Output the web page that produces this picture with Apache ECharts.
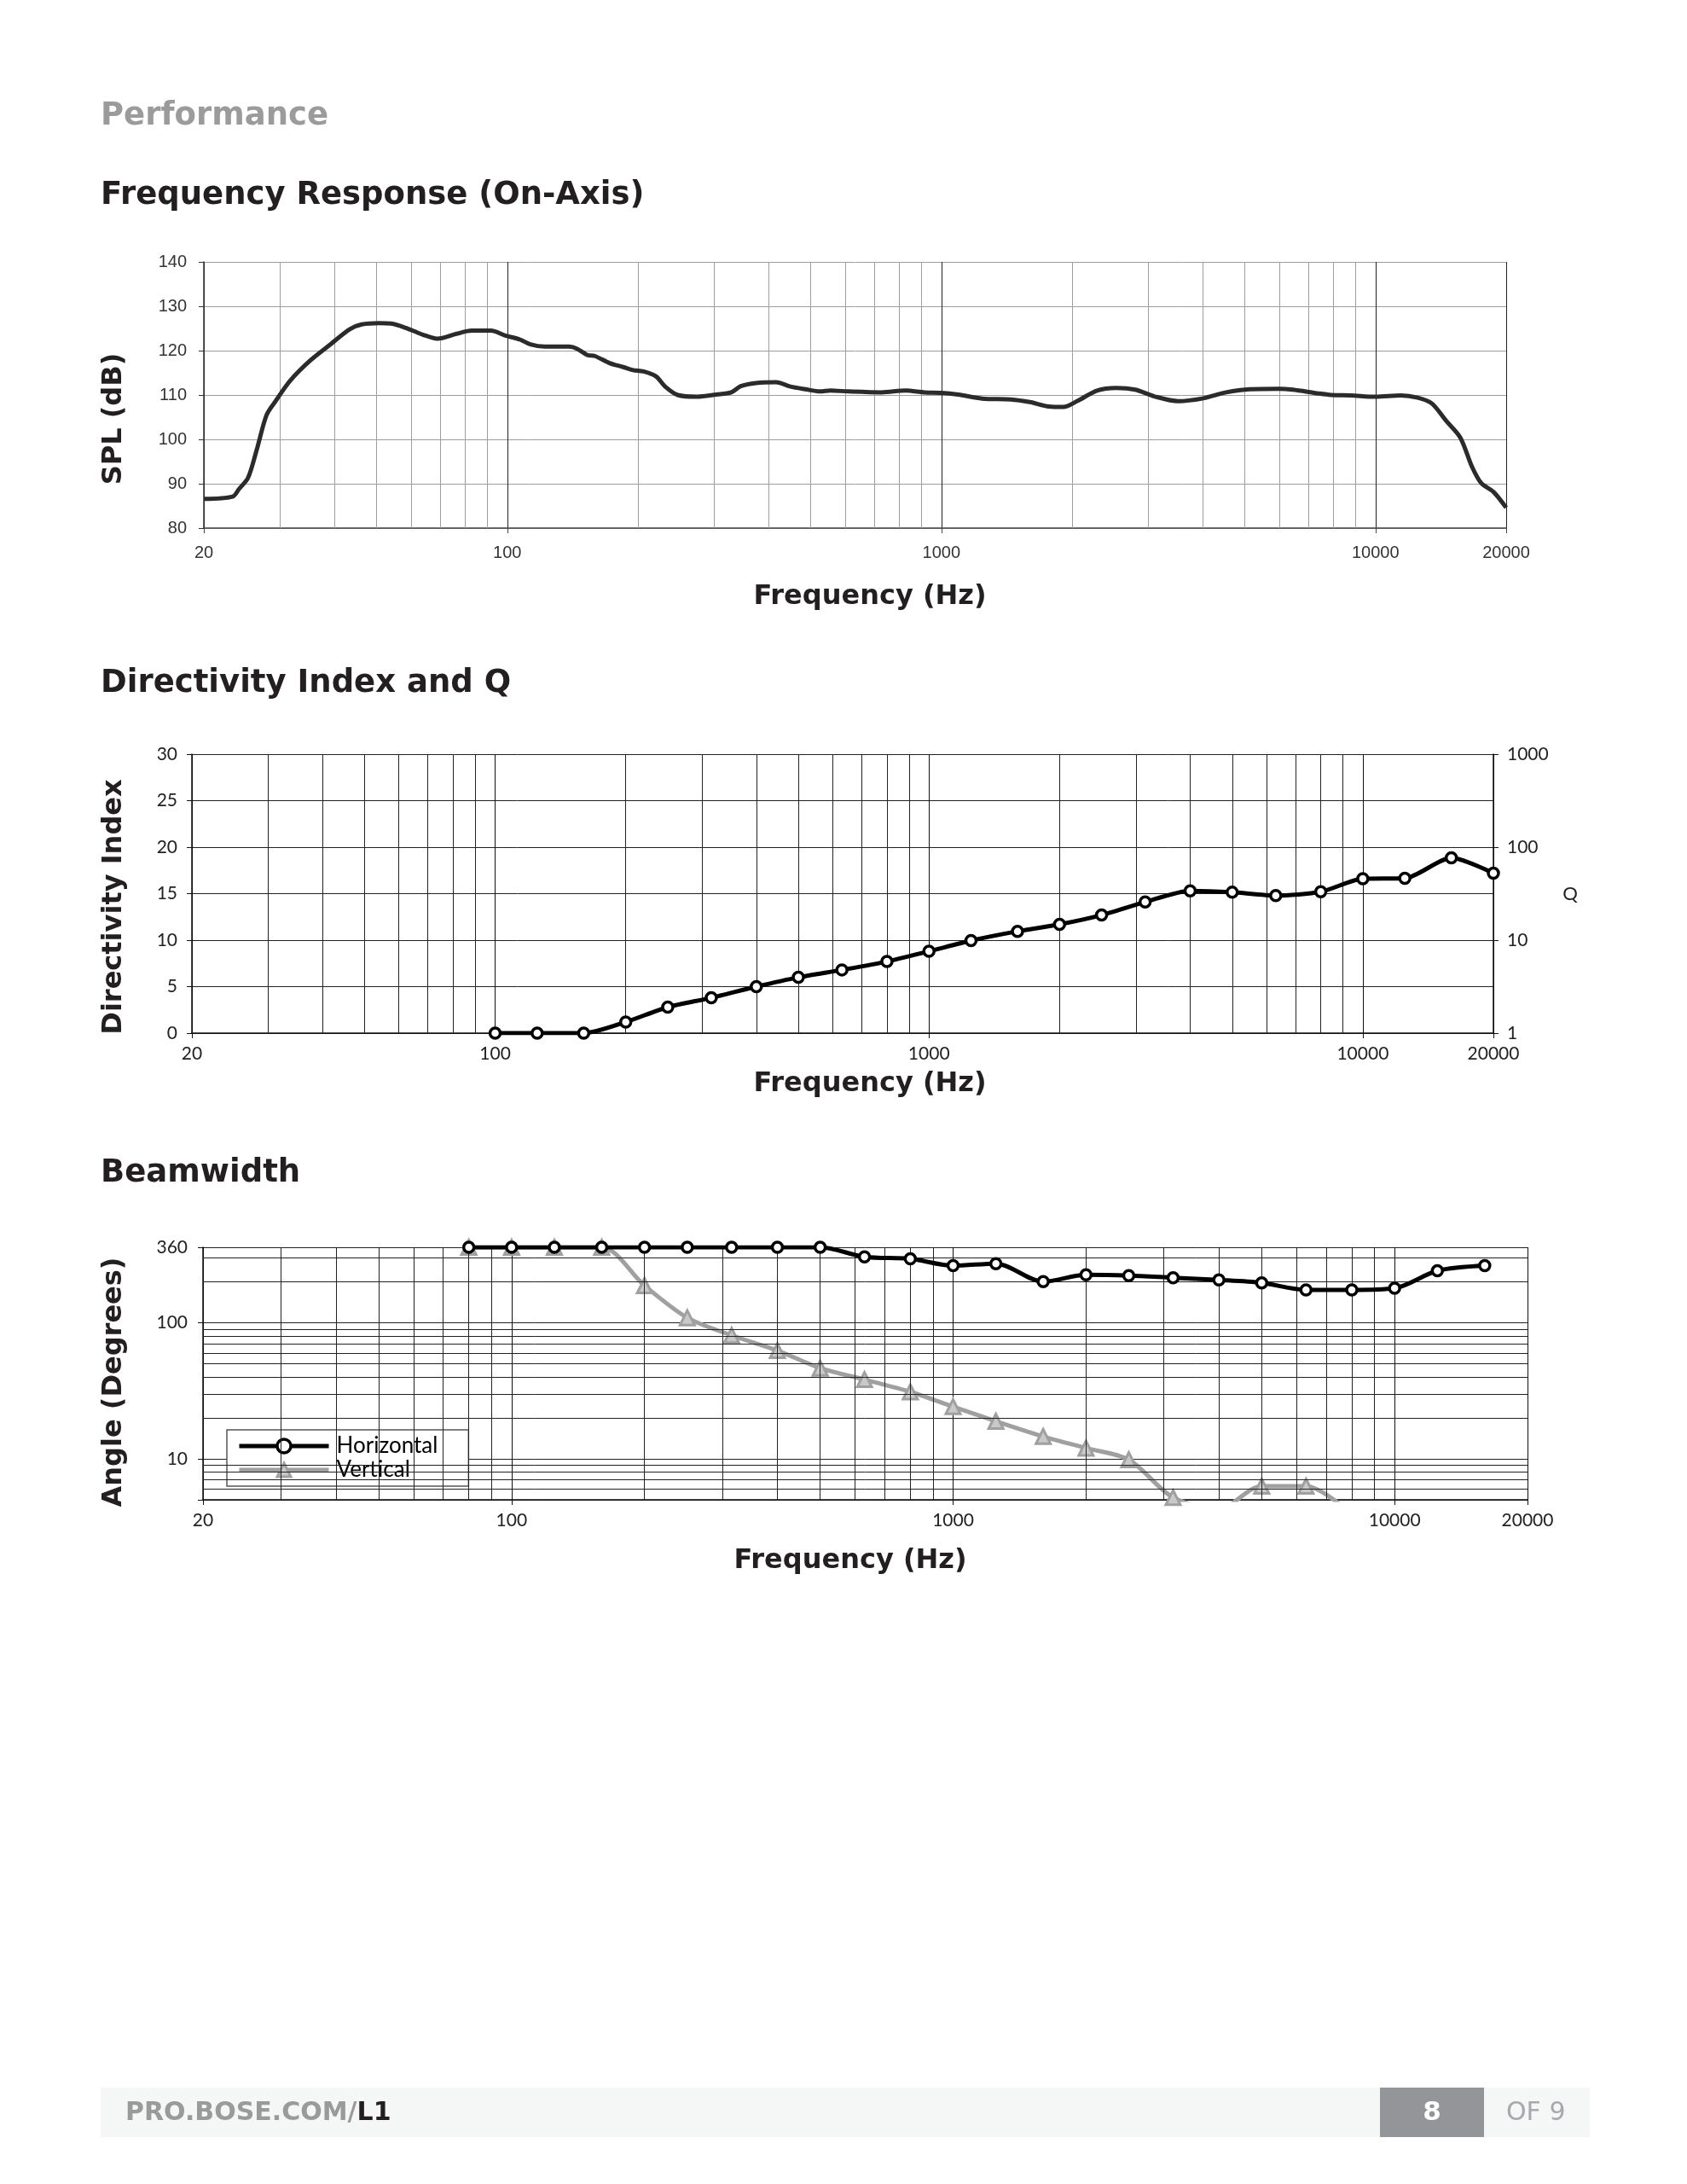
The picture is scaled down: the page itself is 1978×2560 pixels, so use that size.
<!DOCTYPE html>
<html><head><meta charset="utf-8">
<script src="https://cdn.jsdelivr.net/npm/echarts@6/dist/echarts.min.js"></script>
<style>html,body{margin:0;padding:0;background:#fff}#c{width:1978px;height:2560px}</style>
</head><body><div id="c"></div>
<script>
// ---------- Frequency Response (On-Axis) ----------
const frFreq = [20,23.3,24.1,25.3,26.5,27.9,29.3,31.6,35.1,38.9,43.3,46.2,50.6,54,59.2,63.9,69,76.4,82.8,91.7,99,107,113,122,139,145,153,159,172,185,195,206,220,231,247,274,303,328,345,374,416,449,486,526,555,610,728,827,915,1000,1093,1241,1445,1598,1770,1909,2061,2283,2526,2796,3093,3515,3989,4531,5140,5987,6451,7326,7904,8765,10000,11433,12500,13480,14540,15680,16670,17530,18680,20000];
const frSpl  = [86.6,87.1,88.8,91.4,97.8,105.5,108.7,113.2,117.7,121.2,124.8,125.9,126.2,126.1,124.9,123.6,122.7,123.8,124.5,124.5,123.4,122.5,121.4,120.9,120.9,120.4,119.0,118.8,117.2,116.3,115.6,115.3,114.2,111.9,110.0,109.6,110.1,110.6,112.0,112.7,112.9,111.9,111.3,110.8,111.0,110.8,110.6,111.0,110.6,110.5,110.1,109.2,109.0,108.4,107.4,107.3,108.7,111.0,111.6,111.2,109.7,108.6,109.2,110.6,111.3,111.4,111.2,110.4,110.0,109.9,109.6,109.9,109.4,108.1,104.2,100.4,93.9,90.1,88.2,84.6];

// ---------- Directivity Index ----------
const diFreq   = [100,125,160,200,250,315,400,500,630,800,1000,1250,1600,2000,2500,3150,4000,5000,6300,8000,10000,12500,16000,20000];
const diValues = [0,0,0,1.2,2.8,3.8,5.0,6.0,6.8,7.7,8.8,9.95,10.95,11.7,12.7,14.1,15.3,15.15,14.8,15.2,16.6,16.65,18.85,17.2];

// ---------- Beamwidth ----------
const bwFreq       = [80,100,125,160,200,250,315,400,500,630,800,1000,1250,1600,2000,2500,3150,4000,5000,6300,8000,10000,12500,16000];
const bwHorizontal = [360,360,360,360,360,360,360,360,360,306,296,264,273,201,226,223,215,207,197,175,175,180,242,264];
const bwVertical   = [360,360,360,360,188,109,81,62.6,46.5,38.3,31.1,24.2,18.9,14.6,12.0,9.86,5.2,4.3,6.3,6.3,3.9];

// grid line values (log paper)
const minorFreqGrid = [30,40,50,60,70,80,90,200,300,400,500,600,700,800,900,2000,3000,4000,5000,6000,7000,8000,9000];
const minorAngleGrid = [6,7,8,9,20,30,40,50,60,70,80,90,200,300];

const pairs = (xs, ys) => ys.map((y, i) => [xs[i], y]);
const logLabel = v => String(Math.round(v));

const tickFontA = {fontFamily: "'Liberation Sans', Arial, sans-serif", fontSize: 20, color: '#333'};
const tickFontB = {fontFamily: "Lato, 'Open Sans', sans-serif", fontSize: 21, color: '#222'};
const headFont = "'DejaVu Sans', 'Open Sans', sans-serif";

function gridSeries(xi, yi, color, hVals) {
  const d = minorFreqGrid.map(v => ({xAxis: v}));
  if (hVals) hVals.forEach(v => d.push({yAxis: v}));
  return {
    type: 'line', xAxisIndex: xi, yAxisIndex: yi, data: [], z: 1, silent: true,
    markLine: {silent: true, symbol: ['none', 'none'], animation: false, label: {show: false},
      lineStyle: {color: color, width: 1, type: 'solid'}, emphasis: {disabled: true}, data: d}
  };
}

function heading(text, x, y, size, fill, align) {
  return {type: 'text', x: x, y: y, z: 2, style: {text: text, fontFamily: headFont, fontWeight: 'bold', fontSize: size, fill: fill, verticalAlign: 'middle', align: align || 'left'}};
}
function vTitle(text, x, y) {
  const t = heading(text, x, y, 32, '#231f20', 'center');
  t.rotation = Math.PI / 2;
  return t;
}

const chart = echarts.init(document.getElementById('c'));
const option = {
  animation: false,
  backgroundColor: '#fff',
  grid: [
    {left: 239, top: 307, width: 1527, height: 312},
    {left: 225, top: 884, width: 1526, height: 327},
    {left: 238, top: 1462, width: 1553, height: 296}
  ],
  xAxis: [
    {type: 'log', gridIndex: 0, min: 20, max: 20000,
      axisLine: {lineStyle: {color: '#444', width: 1.5}},
      axisTick: {show: true, length: 6, lineStyle: {color: '#444'}},
      axisLabel: Object.assign({margin: 19, formatter: logLabel}, tickFontA),
      splitLine: {show: true, lineStyle: {color: '#222', width: 1}}},
    {type: 'log', gridIndex: 1, min: 20, max: 20000,
      axisLine: {lineStyle: {color: '#111', width: 1.5}},
      axisTick: {show: true, length: 6, lineStyle: {color: '#111'}},
      axisLabel: Object.assign({margin: 14, formatter: logLabel}, tickFontB),
      splitLine: {show: true, lineStyle: {color: '#111', width: 1}}},
    {type: 'log', gridIndex: 2, min: 20, max: 20000,
      axisLine: {lineStyle: {color: '#111', width: 1.5}},
      axisTick: {show: true, length: 6, lineStyle: {color: '#111'}},
      axisLabel: Object.assign({margin: 14, formatter: logLabel}, tickFontB),
      splitLine: {show: true, lineStyle: {color: '#111', width: 1}}}
  ],
  yAxis: [
    {type: 'value', gridIndex: 0, min: 80, max: 140, interval: 10,
      axisLine: {show: true, lineStyle: {color: '#333', width: 1.5}},
      axisTick: {show: true, length: 6, lineStyle: {color: '#333'}},
      axisLabel: Object.assign({margin: 20}, tickFontA),
      splitLine: {show: true, lineStyle: {color: '#9e9e9e', width: 1}}},
    {type: 'value', gridIndex: 1, min: 0, max: 30, interval: 5,
      axisLine: {show: true, lineStyle: {color: '#111', width: 1.5}},
      axisTick: {show: true, length: 6, lineStyle: {color: '#111'}},
      axisLabel: Object.assign({margin: 17}, tickFontB),
      splitLine: {show: true, lineStyle: {color: '#222', width: 1}}},
    {type: 'log', gridIndex: 1, min: 1, max: 1000, position: 'right',
      axisLine: {show: true, lineStyle: {color: '#111', width: 1.5}},
      axisTick: {show: true, length: 6, lineStyle: {color: '#111'}},
      axisLabel: Object.assign({margin: 16, formatter: logLabel}, tickFontB),
      splitLine: {show: false}},
    {type: 'log', gridIndex: 2, min: 5, max: 360,
      axisLine: {show: true, lineStyle: {color: '#111', width: 1.5}},
      axisTick: {show: true, length: 6, lineStyle: {color: '#111'}},
      axisLabel: Object.assign({margin: 18, formatter: v => (Math.round(v) === 5 ? '' : logLabel(v))}, tickFontB),
      splitLine: {show: true, lineStyle: {color: '#222', width: 1}}}
  ],
  legend: {
    data: [
      {name: 'Horizontal', lineStyle: {width: 5, color: '#000'}},
      {name: 'Vertical', lineStyle: {width: 5, color: '#a0a0a0'}, itemStyle: {color: '#c9c9c9', borderColor: '#a0a0a0', borderWidth: 3}}
    ],
    orient: 'vertical', left: 266, top: 1676,
    padding: [6, 36, 6, 12], itemGap: 2, itemWidth: 105, itemHeight: 20,
    lineStyle: {width: 'inherit'}, itemStyle: {borderWidth: 'inherit'},
    backgroundColor: '#fff', borderColor: '#555', borderWidth: 1.5, borderRadius: 0,
    textStyle: {fontFamily: "Lato, sans-serif", fontSize: 26, color: '#000', lineHeight: 26, padding: [0, 0, 0, 4]}
  },
  series: [
    gridSeries(0, 0, '#9e9e9e'),
    {type: 'line', name: 'SPL', xAxisIndex: 0, yAxisIndex: 0, data: pairs(frFreq, frSpl), z: 5,
      showSymbol: false, smooth: 0.3, lineStyle: {color: '#2b2b2b', width: 5}},
    gridSeries(1, 1, '#222'),
    {type: 'line', name: 'DI', xAxisIndex: 1, yAxisIndex: 1, data: pairs(diFreq, diValues), z: 5,
      symbol: 'circle', symbolSize: 12, smooth: 0.25,
      itemStyle: {color: '#fff', borderColor: '#000', borderWidth: 3.5},
      lineStyle: {color: '#000', width: 5}},
    gridSeries(2, 3, '#222', minorAngleGrid),
    {type: 'line', name: 'Vertical', xAxisIndex: 2, yAxisIndex: 3, data: pairs(bwFreq, bwVertical), z: 4,
      symbol: 'triangle', symbolSize: 17, smooth: 0.3,
      itemStyle: {color: '#c9c9c9', borderColor: '#a0a0a0', borderWidth: 3},
      lineStyle: {color: '#a0a0a0', width: 5}},
    {type: 'line', name: 'Horizontal', xAxisIndex: 2, yAxisIndex: 3, data: pairs(bwFreq, bwHorizontal), z: 5,
      symbol: 'circle', symbolSize: 12, smooth: 0.3,
      itemStyle: {color: '#fff', borderColor: '#000', borderWidth: 3.5},
      lineStyle: {color: '#000', width: 5}}
  ],
  graphic: [
    heading('Performance', 118, 136, 37, '#9b9b9b'),
    heading('Frequency Response (On-Axis)', 118, 229, 37, '#231f20'),
    heading('Directivity Index and Q', 118, 801, 37, '#231f20'),
    heading('Beamwidth', 118, 1375, 37, '#231f20'),
    heading('Frequency (Hz)', 1020, 700, 32, '#231f20', 'center'),
    heading('Frequency (Hz)', 1020, 1271, 32, '#231f20', 'center'),
    heading('Frequency (Hz)', 997, 1830, 32, '#231f20', 'center'),
    vTitle('SPL (dB)', 134, 491),
    vTitle('Directivity Index', 134, 1063),
    vTitle('Angle (Degrees)', 134, 1620),
    {type: 'text', x: 1841, y: 1048, z: 2, style: {text: 'Q', fontFamily: "Lato, sans-serif", fontSize: 22, fill: '#222', verticalAlign: 'middle', align: 'center'}},
    {type: 'rect', shape: {x: 118, y: 2447, width: 1746, height: 58}, style: {fill: '#f5f6f6'}, z: 0},
    {type: 'rect', shape: {x: 1618, y: 2447, width: 122, height: 58}, style: {fill: '#939598'}, z: 1},
    heading('8', 1679, 2477, 31, '#fff', 'center'),
    {type: 'text', x: 1766, y: 2477, z: 2, style: {text: 'OF 9', fontFamily: "'DejaVu Sans', sans-serif", fontWeight: 'normal', fontSize: 30, fill: '#a7a9ac', verticalAlign: 'middle', align: 'left'}},
    {type: 'text', x: 147, y: 2477, z: 2, style: {text: '{a|PRO.BOSE.COM/}{b|L1}', verticalAlign: 'middle', align: 'left',
      rich: {a: {fontFamily: headFont, fontWeight: 'bold', fontSize: 30, fill: '#9a9a9a', color: '#9a9a9a'},
             b: {fontFamily: headFont, fontWeight: 'bold', fontSize: 30, fill: '#231f20', color: '#231f20'}}}}
  ]
};
chart.setOption(option);
</script></body></html>
